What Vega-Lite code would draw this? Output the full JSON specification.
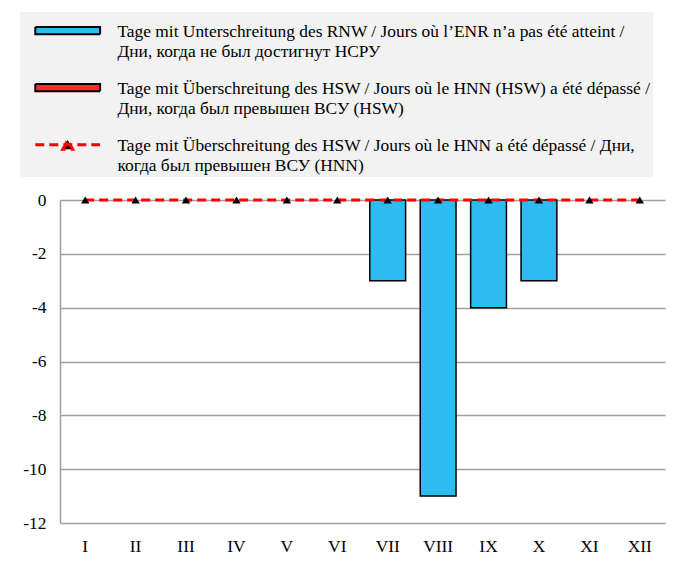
{
  "$schema": "https://vega.github.io/schema/vega-lite/v6.json",
  "width": 605,
  "height": 323,
  "autosize": {"type": "none"},
  "padding": {"left": 60, "top": 200, "right": 11, "bottom": 53},
  "background": "white",
  "config": {"font": "Liberation Serif", "view": {"stroke": null}},
  "data": {"values": [
    {"month": "I", "series": "RNW", "value": 0},
    {"month": "II", "series": "RNW", "value": 0},
    {"month": "III", "series": "RNW", "value": 0},
    {"month": "IV", "series": "RNW", "value": 0},
    {"month": "V", "series": "RNW", "value": 0},
    {"month": "VI", "series": "RNW", "value": 0},
    {"month": "VII", "series": "RNW", "value": -3},
    {"month": "VIII", "series": "RNW", "value": -11},
    {"month": "IX", "series": "RNW", "value": -4},
    {"month": "X", "series": "RNW", "value": -3},
    {"month": "XI", "series": "RNW", "value": 0},
    {"month": "XII", "series": "RNW", "value": 0},
    {"month": "I", "series": "HSW", "value": 0},
    {"month": "II", "series": "HSW", "value": 0},
    {"month": "III", "series": "HSW", "value": 0},
    {"month": "IV", "series": "HSW", "value": 0},
    {"month": "V", "series": "HSW", "value": 0},
    {"month": "VI", "series": "HSW", "value": 0},
    {"month": "VII", "series": "HSW", "value": 0},
    {"month": "VIII", "series": "HSW", "value": 0},
    {"month": "IX", "series": "HSW", "value": 0},
    {"month": "X", "series": "HSW", "value": 0},
    {"month": "XI", "series": "HSW", "value": 0},
    {"month": "XII", "series": "HSW", "value": 0},
    {"month": "I", "series": "HNN", "value": 0},
    {"month": "II", "series": "HNN", "value": 0},
    {"month": "III", "series": "HNN", "value": 0},
    {"month": "IV", "series": "HNN", "value": 0},
    {"month": "V", "series": "HNN", "value": 0},
    {"month": "VI", "series": "HNN", "value": 0},
    {"month": "VII", "series": "HNN", "value": 0},
    {"month": "VIII", "series": "HNN", "value": 0},
    {"month": "IX", "series": "HNN", "value": 0},
    {"month": "X", "series": "HNN", "value": 0},
    {"month": "XI", "series": "HNN", "value": 0},
    {"month": "XII", "series": "HNN", "value": 0}
  ]},
  "layer": [
    {
      "transform": [{"filter": "datum.series != 'HNN'"}],
      "mark": {"type": "bar", "stroke": "black"},
      "encoding": {
        "x": {
          "field": "month", "type": "ordinal",
          "sort": ["I","II","III","IV","V","VI","VII","VIII","IX","X","XI","XII"],
          "scale": {"paddingInner": 0.29, "paddingOuter": 0.145},
          "axis": {"title": null, "labelAngle": 0, "ticks": false, "domain": false, "grid": false,
                   "labelPadding": 14, "labelFontSize": 17.4, "labelColor": "black", "labelFont": "Liberation Serif"}
        },
        "y": {
          "field": "value", "type": "quantitative", "stack": null,
          "scale": {"domain": [-12, 0], "nice": false},
          "axis": {"title": null, "values": [-12, -10, -8, -6, -4, -2, 0], "grid": true,
                   "labelExpr": "'' + datum.value",
                   "gridColor": "#a0a0a0", "gridWidth": 1.5, "domain": true, "domainColor": "#a0a0a0",
                   "domainWidth": 1.5, "ticks": false, "labelPadding": 14, "labelFontSize": 17.4,
                   "labelColor": "black", "labelFont": "Liberation Serif"}
        },
        "fill": {
          "field": "series", "type": "nominal",
          "scale": {"domain": ["RNW", "HSW", "HNN"], "range": ["#2cbcf2", "#ff2a2a", "#000000"]},
          "legend": {
            "title": null, "orient": "none", "legendX": -40, "legendY": -188,
            "direction": "vertical", "fillColor": "#f2f2f2", "padding": 2,
            "labelFont": "Liberation Serif", "labelFontSize": 17.4, "labelColor": "black",
            "labelLimit": 800, "labelBaseline": "top", "labelOffset": 41, "symbolOffset": 37,
            "symbolSize": 64, "rowPadding": 10,
            "symbolType": {"expr": "datum.value == 'HNN' ? 'M-8.1,2H8.1M-1.25,3.15L0,0.85L1.25,3.15Z' : 'M-8.1,1.1H8.1V2.9H-8.1Z'"},
            "symbolStrokeColor": {"expr": "datum.value == 'HNN' ? '#ff0000' : '#000000'"},
            "symbolStrokeWidth": {"expr": "datum.value == 'HNN' ? 3 : 2"},
            "symbolDash": {"expr": "datum.value == 'HNN' ? [9, 5] : [1, 0]"},
            "symbolOpacity": 1,
            "labelExpr": "datum.value == 'RNW' ? ['Tage mit Unterschreitung des RNW / Jours où l’ENR n’a pas été atteint /', 'Дни, когда не был достигнут НСРУ'] : datum.value == 'HSW' ? ['Tage mit Überschreitung des HSW / Jours où le HNN (HSW) a été dépassé /', 'Дни, когда был превышен ВСУ (HSW)'] : ['Tage mit Überschreitung des HSW / Jours où le HNN a été dépassé / Дни,', 'когда был превышен ВСУ (HNN)']",
            "encode": {
              "labels": {"update": {"lineHeight": {"value": 20}}}
            }
          }
        },
        "strokeWidth": {"condition": {"test": "datum.value == 0", "value": 0}, "value": 1.5}
      }
    },
    {
      "transform": [{"filter": "datum.series == 'HNN'"}],
      "mark": {"type": "line", "color": "#ff0000", "strokeWidth": 3, "strokeDash": [9, 5]},
      "encoding": {
        "x": {"field": "month", "type": "ordinal", "sort": ["I","II","III","IV","V","VI","VII","VIII","IX","X","XI","XII"]},
        "y": {"field": "value", "type": "quantitative"}
      }
    },
    {
      "transform": [{"filter": "datum.series == 'HNN'"}],
      "mark": {"type": "point", "shape": "triangle-up", "filled": true, "color": "black", "size": 70, "opacity": 1},
      "encoding": {
        "x": {"field": "month", "type": "ordinal", "sort": ["I","II","III","IV","V","VI","VII","VIII","IX","X","XI","XII"]},
        "y": {"field": "value", "type": "quantitative"}
      }
    }
  ]
}
